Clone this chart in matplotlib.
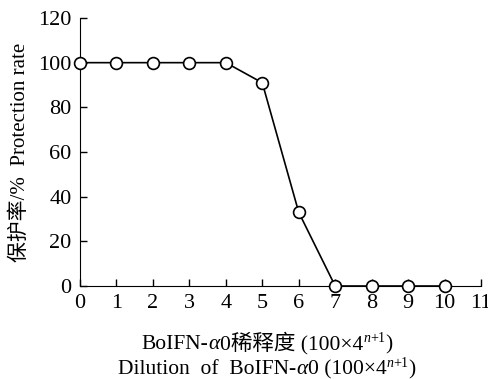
import numpy as np
import matplotlib.pyplot as plt
from matplotlib.transforms import IdentityTransform

plt.rcParams['font.family'] = ['Liberation Serif', 'Noto Sans CJK SC']

# dilution steps and protection rate (%)
dilution = [0, 1, 2, 3, 4, 5, 6, 7, 8, 9, 10]
protection = [100, 100, 100, 100, 100, 91, 33, 0, 0, 0, 0]

W, H = 489, 379
fig = plt.figure(figsize=(W / 100, H / 100), dpi=100)
ax = fig.add_axes([80/W, 1-286/H, 401/W, 268/H])

ax.plot(dilution, protection, color='black', lw=1.2, marker='o', ms=8.5,
        mfc='white', mec='black', mew=1.2, clip_on=False, zorder=3)

ax.set_xlim(0, 11)
ax.set_ylim(0, 120)
ax.set_xticks(range(0, 12))
ax.set_yticks(range(0, 121, 20))
ax.spines['top'].set_visible(False)
ax.spines['right'].set_visible(False)
ax.tick_params(direction='in', length=5, width=1, labelsize=16, pad=6)

ax.set_ylabel('保护率/%  Protection rate', fontsize=15, labelpad=6)

# x label: two lines built from pieces (italic alpha / n, small superscript)
line1 = [('BoIFN-', 'normal', 15.5, 0), ('α', 'italic', 15.5, 0),
         ('0稀释度 (100×4', 'normal', 15.5, 0), ('n', 'italic', 10, 7),
         ('+1', 'normal', 10, 7), (')', 'normal', 15.5, 0)]
line2 = [('Dilution  of  BoIFN-', 'normal', 15.5, 0), ('α', 'italic', 15.5, 0),
         ('0 (100×4', 'normal', 15.5, 0), ('n', 'italic', 10, 7),
         ('+1', 'normal', 10, 7), (')', 'normal', 15.5, 0)]

renderer = fig.canvas.get_renderer()


def draw_line(pieces, cx, baseline):
    texts = []
    widths = []
    for s, style, size, dy in pieces:
        t = fig.text(0, 0, s, fontsize=size, style=style, transform=IdentityTransform(),
                     ha='left', va='baseline')
        w = t.get_window_extent(renderer).width
        texts.append((t, dy))
        widths.append(w)
    x = cx - sum(widths) / 2
    for (t, dy), w in zip(texts, widths):
        t.set_position((x, H - baseline + dy))
        x += w


draw_line(line1, 267, 349)
draw_line(line2, 267, 374)

fig.savefig('out.png', dpi=100)
